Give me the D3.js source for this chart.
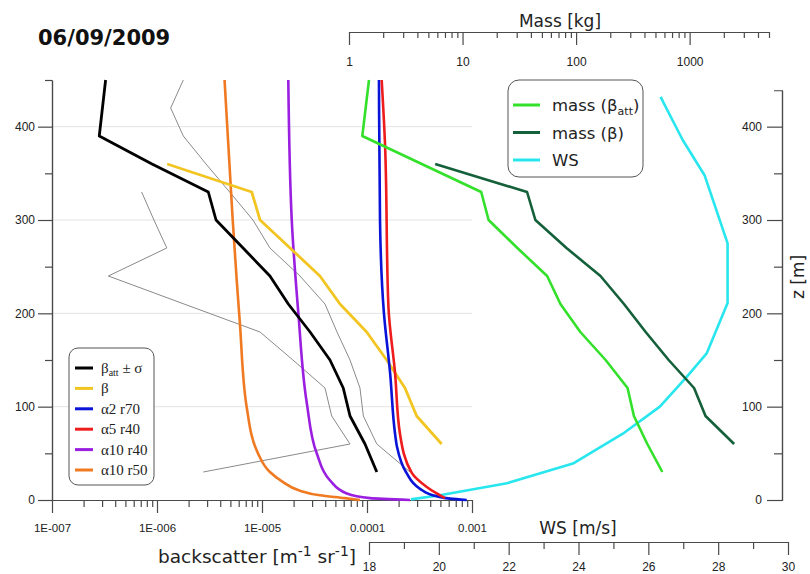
<!DOCTYPE html>
<html><head><meta charset="utf-8">
<script src="https://cdn.jsdelivr.net/npm/d3@7"></script>
<style>
body{margin:0;background:#fff;}
svg{display:block;}
.tick text{font-family:"Liberation Sans",Arial,sans-serif;fill:#222;}
</style></head><body>
<svg id="chart" width="810" height="574"></svg>
<script>
// ---- Data -------------------------------------------------------------
// Attenuated backscatter (β_att) and its ±σ envelope, height z in metres
const battZ   = [30, 60, 90, 120, 150, 180, 210, 240, 270, 300, 330, 360, 390, 450];
const battVal = [1.24e-4, 9.57e-5, 6.89e-5, 5.94e-5, 4.44e-5, 2.87e-5, 1.78e-5, 1.19e-5, 6.6e-6, 3.65e-6, 3.08e-6, 8.96e-7, 2.82e-7, 3.24e-7];
const sigHiZ   = [30, 60, 90, 120, 150, 180, 210, 240, 270, 300, 330, 360, 390, 420, 450];
const sigHiVal = [2.57e-4, 1.24e-4, 9.23e-5, 8.57e-5, 6.89e-5, 5.18e-5, 3.98e-5, 2.30e-5, 1.19e-5, 8.2e-6, 4.92e-6, 2.93e-6, 1.78e-6, 1.35e-6, 1.78e-6];
const sigLoZ   = [30, 60, 90, 120, 150, 180, 210, 240, 270, 300, 330];
const sigLoVal = [2.76e-6, 6.89e-5, 4.61e-5, 3.98e-5, 1.97e-5, 9.58e-6, 1.81e-6, 3.44e-7, 1.24e-6, 9.35e-7, 7.14e-7];
// Backscatter β
const betaZ   = [60, 90, 120, 150, 180, 210, 240, 270, 300, 330, 360];
const betaVal = [5.14e-4, 2.97e-4, 2.30e-4, 1.54e-4, 9.93e-5, 5.53e-5, 3.56e-5, 1.85e-5, 9.58e-6, 7.98e-6, 1.25e-6];
// Model profiles
const a2r70Z   = [0, 1.5, 4, 12, 30, 57, 71, 136, 200, 300, 450];
const a2r70Val = [8.91e-4, 6.17e-4, 4.61e-4, 3.20e-4, 2.35e-4, 1.93e-4, 1.85e-4, 1.66e-4, 1.45e-4, 1.33e-4, 1.30e-4];
const a5r40Z   = [2, 7, 14, 29, 71, 136, 207, 385, 450];
const a5r40Val = [5.53e-4, 4.61e-4, 3.71e-4, 2.67e-4, 2.06e-4, 1.85e-4, 1.60e-4, 1.48e-4, 1.38e-4];
const a10r40Z   = [0, 2, 7, 21, 50, 104, 200, 300, 450];
const a10r40Val = [2.57e-4, 1.07e-4, 6.41e-5, 4.44e-5, 3.32e-5, 2.67e-5, 2.22e-5, 1.92e-5, 1.78e-5];
const a10r50Z   = [0, 2, 5, 10, 20, 30, 50, 100, 189, 236, 300, 450];
const a10r50Val = [8.57e-5, 6.16e-5, 3.56e-5, 2.30e-5, 1.55e-5, 1.19e-5, 9.16e-6, 7.14e-6, 6.16e-6, 5.74e-6, 5.26e-6, 4.40e-6];
// Mass [kg]
const massAttZ   = [30, 60, 90, 120, 150, 180, 210, 240, 270, 300, 330, 390, 450];
const massAttVal = [575, 424, 323, 284, 182, 109, 72.8, 55.6, 30.4, 16.96, 14.6, 1.31, 1.50];
const massZ   = [60, 90, 120, 150, 180, 210, 240, 270, 300, 330, 360];
const massVal = [2466, 1380, 1094, 654, 410, 264, 164, 82.3, 43.8, 37.0, 5.74];
// Wind speed [m/s]
const wsZ   = [0.7, 5, 18, 39, 71, 100, 132, 157, 211, 275, 348, 386, 432];
const wsVal = [19.20, 20.03, 21.95, 23.84, 25.27, 26.33, 27.10, 27.67, 28.27, 28.27, 27.61, 26.98, 26.35];

// Tick labels
const zTicks = [0, 100, 200, 300, 400];
const backTicks = [1e-7, 1e-6, 1e-5, 1e-4, 1e-3];
const backLabels = ["1E-007", "1E-006", "1E-005", "0.0001", "0.001"];
const massTicks = [1, 10, 100, 1000];
const massLabels = ["1", "10", "100", "1000"];
const wsTicks = [18, 20, 22, 24, 26, 28, 30];

// ---- Scales -----------------------------------------------------------
const svg = d3.select("#chart");
const y  = d3.scaleLinear().domain([0, 450]).range([500, 80]);
const yR = d3.scaleLinear().domain([0, 439]).range([500, y(439)]);
const xB = d3.scaleLog().domain([1e-7, 1e-3]).range([52, 472]);
const xM = d3.scaleLog().domain([1, 5000]).range([349, 769]);
const xW = d3.scaleLinear().domain([18, 30]).range([369, 788]);

const AXIS = "#4a4a4a";
function styleAxis(g, fs) {
  g.select(".domain").attr("stroke", AXIS).attr("stroke-width", 1.2);
  g.selectAll(".tick line").attr("stroke", AXIS).attr("stroke-width", 1.2);
  g.selectAll(".tick text").style("font-size", fs + "px");
}
function minorLog(lo, hi, upTo) {
  const out = [];
  for (let d = lo; d < hi; d *= 10)
    for (let k = 2; k <= 9; k++) if (d * k <= upTo) out.push(d * k);
  return out;
}

// ---- Grid -------------------------------------------------------------
svg.append("g").selectAll("line").data([100, 200, 300, 400]).join("line")
  .attr("x1", xB(1e-7)).attr("x2", xB(1e-3))
  .attr("y1", d => y(d)).attr("y2", d => y(d))
  .attr("stroke", "#e4e4e4").attr("stroke-width", 1);

// ---- Axes -------------------------------------------------------------
// left height axis
svg.append("g").attr("transform", "translate(52,0)")
  .call(d3.axisLeft(y).tickValues([50, 150, 250, 350, 450]).tickSize(7).tickSizeOuter(0).tickFormat(""))
  .call(g => styleAxis(g, 12));
svg.append("g").attr("transform", "translate(52,0)")
  .call(d3.axisLeft(y).tickValues(zTicks).tickSize(14).tickSizeOuter(0).tickPadding(3).tickFormat(d3.format("d")))
  .call(g => styleAxis(g, 12));

// right height axis
svg.append("g").attr("transform", "translate(782,0)")
  .call(d3.axisLeft(yR).tickValues([50, 150, 250, 350]).tickSize(8).tickSizeOuter(8).tickFormat(""))
  .call(g => styleAxis(g, 12));
svg.append("g").attr("transform", "translate(782,0)")
  .call(d3.axisLeft(yR).tickValues(zTicks).tickSize(15).tickSizeOuter(0).tickPadding(5).tickFormat(d3.format("d")))
  .call(g => styleAxis(g, 12));

// bottom backscatter axis
svg.append("g").attr("transform", "translate(0,500)")
  .call(d3.axisBottom(xB).tickValues(minorLog(1e-7, 1e-3, 1e-3)).tickSize(7).tickSizeOuter(0).tickFormat(""))
  .call(g => styleAxis(g, 12));
svg.append("g").attr("transform", "translate(0,500)")
  .call(d3.axisBottom(xB).tickValues(backTicks).tickSize(13).tickSizeOuter(0).tickPadding(11)
        .tickFormat((d, i) => backLabels[i]))
  .call(g => styleAxis(g, 11.5));

// top mass axis
svg.append("g").attr("transform", "translate(0,32)")
  .call(d3.axisBottom(xM).tickValues(minorLog(1, 5000, 5000)).tickSize(6).tickSizeOuter(0).tickFormat(""))
  .call(g => styleAxis(g, 12));
svg.append("g").attr("transform", "translate(0,32)")
  .call(d3.axisBottom(xM).tickValues(massTicks).tickSize(13).tickSizeOuter(0).tickPadding(12)
        .tickFormat((d, i) => massLabels[i]))
  .call(g => styleAxis(g, 12));

// bottom wind speed axis
svg.append("g").attr("transform", "translate(0,542)")
  .call(d3.axisBottom(xW).tickValues([19, 21, 23, 25, 27, 29]).tickSize(7).tickSizeOuter(0).tickFormat(""))
  .call(g => styleAxis(g, 12));
svg.append("g").attr("transform", "translate(0,542)")
  .call(d3.axisBottom(xW).tickValues(wsTicks).tickSize(13).tickSizeOuter(0).tickPadding(7).tickFormat(d3.format("d")))
  .call(g => styleAxis(g, 12));

// ---- Axis titles ------------------------------------------------------
const titleFont = "'DejaVu Sans', Verdana, sans-serif";
svg.append("text").attr("x", 38).attr("y", 45)
  .attr("font-family", titleFont).attr("font-weight", "bold").attr("font-size", 21)
  .attr("fill", "#111").text("06/09/2009");
svg.append("text").attr("x", 560).attr("y", 27).attr("text-anchor", "middle")
  .attr("font-family", titleFont).attr("font-size", 17).attr("fill", "#222").text("Mass [kg]");
svg.append("text").attr("x", 578).attr("y", 534).attr("text-anchor", "middle")
  .attr("font-family", titleFont).attr("font-size", 17).attr("fill", "#222").text("WS [m/s]");
svg.append("text").attr("transform", "translate(804,277) rotate(-90)").attr("text-anchor", "middle")
  .attr("font-family", titleFont).attr("font-size", 17).attr("fill", "#222").text("z [m]");
const bl = svg.append("text").attr("x", 158).attr("y", 563)
  .attr("font-family", titleFont).attr("font-size", 18.5).attr("fill", "#222");
bl.append("tspan").text("backscatter [m");
bl.append("tspan").attr("dy", -7).attr("font-size", 14).text("-1");
bl.append("tspan").attr("dy", 7).text(" sr");
bl.append("tspan").attr("dy", -7).attr("font-size", 14).text("-1");
bl.append("tspan").attr("dy", 7).text("]");

// ---- Profiles ---------------------------------------------------------
const zip = (zs, vs) => zs.map((z, i) => ({z, v: vs[i]}));
function profile(zs, vs, xs, color, width, curve) {
  const line = d3.line().x(d => xs(d.v)).y(d => y(d.z)).curve(curve || d3.curveLinear);
  svg.append("path").datum(zip(zs, vs)).attr("d", line)
    .attr("fill", "none").attr("stroke", color).attr("stroke-width", width)
    .attr("stroke-linejoin", "round").attr("stroke-linecap", "butt");
}
const C = {
  batt: "#000000", beta: "#f2c522", a2: "#0a14d8", a5: "#ee1c1c",
  a10r40: "#9a1fe0", a10r50: "#f07a22", massAtt: "#33e02a", mass: "#14603a", ws: "#28e6ee"
};
profile(sigHiZ, sigHiVal, xB, "#8a8a8a", 1);
profile(sigLoZ, sigLoVal, xB, "#8a8a8a", 1);
profile(a10r50Z, a10r50Val, xB, C.a10r50, 2.6, d3.curveMonotoneY);
profile(a10r40Z, a10r40Val, xB, C.a10r40, 2.6, d3.curveMonotoneY);
profile(betaZ, betaVal, xB, C.beta, 2.8);
profile(battZ, battVal, xB, C.batt, 2.8);
profile(wsZ, wsVal, xW, C.ws, 2.6);
profile(a2r70Z, a2r70Val, xB, C.a2, 2.6, d3.curveMonotoneY);
profile(a5r40Z, a5r40Val, xB, C.a5, 2.6, d3.curveMonotoneY);
profile(massAttZ, massAttVal, xM, C.massAtt, 2.6);
profile(massZ, massVal, xM, C.mass, 2.6);

// ---- Legends ----------------------------------------------------------
// left legend: backscatter profiles
const leg1 = svg.append("g");
leg1.append("rect").attr("x", 69).attr("y", 348).attr("width", 85).attr("height", 137)
  .attr("rx", 9).attr("fill", "#fff").attr("stroke", "#555").attr("stroke-width", 1);
const leg1Items = [
  {c: C.batt, t: "batt"}, {c: C.beta, t: "β"}, {c: C.a2, t: "α2 r70"},
  {c: C.a5, t: "α5 r40"}, {c: C.a10r40, t: "α10 r40"}, {c: C.a10r50, t: "α10 r50"}
];
leg1Items.forEach((d, i) => {
  const yy = 368 + i * 20.4;
  leg1.append("line").attr("x1", 75).attr("x2", 93).attr("y1", yy).attr("y2", yy)
    .attr("stroke", d.c).attr("stroke-width", 3);
  const t = leg1.append("text").attr("x", 101).attr("y", yy + 5)
    .attr("font-family", "'Liberation Serif','Times New Roman',serif").attr("font-size", 15).attr("fill", "#222");
  if (d.t === "batt") {
    t.append("tspan").text("β");
    t.append("tspan").attr("font-size", 10).attr("dy", 3).text("att");
    t.append("tspan").attr("dy", -3).text(" ± σ");
  } else t.text(d.t);
});

// right legend: mass and wind speed
const leg2 = svg.append("g");
leg2.append("rect").attr("x", 508).attr("y", 80).attr("width", 135).attr("height", 97)
  .attr("rx", 11).attr("fill", "#fff").attr("stroke", "#555").attr("stroke-width", 1);
const leg2Items = [{c: C.massAtt, t: "massatt"}, {c: C.mass, t: "mass (β)"}, {c: C.ws, t: "WS"}];
leg2Items.forEach((d, i) => {
  const yy = 105 + i * 27.5;
  leg2.append("line").attr("x1", 513).attr("x2", 540).attr("y1", yy).attr("y2", yy)
    .attr("stroke", d.c).attr("stroke-width", 3);
  const t = leg2.append("text").attr("x", 552).attr("y", yy + 6)
    .attr("font-family", titleFont).attr("font-size", 16.5).attr("fill", "#222");
  if (d.t === "massatt") {
    t.append("tspan").text("mass (β");
    t.append("tspan").attr("font-size", 11).attr("dy", 4).text("att");
    t.append("tspan").attr("dy", -4).text(")");
  } else t.text(d.t);
});
</script>
</body></html>
